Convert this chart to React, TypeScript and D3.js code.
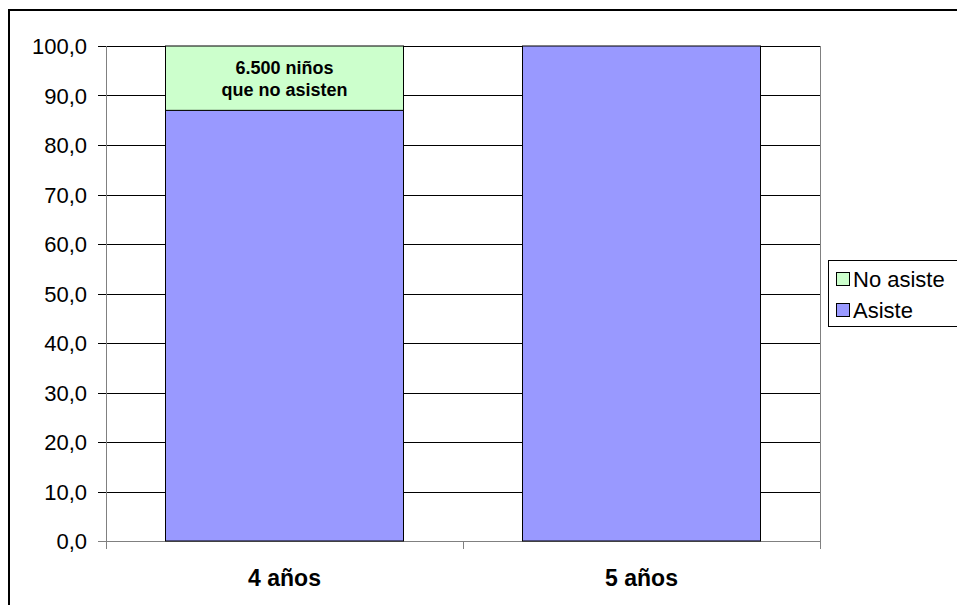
import React from "react";
import * as d3 from "d3";

const categories = ["4 años", "5 años"];
const asiste = [87.0, 100.0];
const noAsiste = [13.0, 0.0];
const yTicks = [0, 10, 20, 30, 40, 50, 60, 70, 80, 90, 100];
const seriesNames = ["No asiste", "Asiste"];
const annotation = ["6.500 niños", "que no asisten"];

const W = 957;
const H = 605;
const plot = { left: 106, right: 820, top: 46, bottom: 541 };
const colAsiste = "#9999FF";
const colNo = "#CCFFCC";

export default function App() {
  const x = d3
    .scaleBand<string>()
    .domain(categories)
    .range([plot.left, plot.right])
    .paddingInner(1 / 3)
    .paddingOuter(1 / 6);
  const y = d3.scaleLinear().domain([0, 100]).range([plot.bottom, plot.top]);
  const fmt = (v: number) => v.toFixed(1).replace(".", ",");
  const font = "Arial, 'Liberation Sans', sans-serif";
  const bw = x.bandwidth();

  return (
    <svg
      width={W}
      height={H}
      style={{ position: "absolute", left: 0, top: 0, background: "#fff" }}
      fontFamily={font}
    >
      <rect x={0} y={0} width={W} height={H} fill="#fff" />
      {/* outer border (top and left visible) */}
      <line x1={9} y1={10} x2={W} y2={10} stroke="#000" strokeWidth={2} />
      <line x1={9} y1={9} x2={9} y2={H} stroke="#000" strokeWidth={2} />

      {/* gridlines */}
      {yTicks.map((t) => (
        <line
          key={"g" + t}
          x1={plot.left - 8}
          x2={plot.right}
          y1={Math.round(y(t)) + 0.5}
          y2={Math.round(y(t)) + 0.5}
          stroke={t === 0 ? "#808080" : "#000"}
          strokeWidth={1}
        />
      ))}
      {/* plot right border */}
      <line
        x1={plot.right + 0.5}
        x2={plot.right + 0.5}
        y1={plot.top}
        y2={plot.bottom}
        stroke="#808080"
      />
      {/* y axis */}
      <line
        x1={plot.left + 0.5}
        x2={plot.left + 0.5}
        y1={plot.top}
        y2={plot.bottom + 8}
        stroke="#808080"
      />
      {/* category ticks */}
      {[plot.left, (plot.left + plot.right) / 2, plot.right].map((px, i) => (
        <line
          key={"ct" + i}
          x1={Math.round(px) + 0.5}
          x2={Math.round(px) + 0.5}
          y1={plot.bottom}
          y2={plot.bottom + 8}
          stroke="#808080"
        />
      ))}
      {yTicks.map((t) => (
        <text
          key={"l" + t}
          x={87}
          y={y(t) + 8}
          textAnchor="end"
          fontSize={22}
          fill="#000"
        >
          {fmt(t)}
        </text>
      ))}

      {/* bars */}
      {categories.map((c, i) => {
        const x0 = x(c)!;
        return (
          <g key={c}>
            <rect
              x={x0}
              y={y(asiste[i])}
              width={bw}
              height={y(0) - y(asiste[i])}
              fill={colAsiste}
              stroke="#000"
              strokeWidth={1}
            />
            {noAsiste[i] > 0 && (
              <rect
                x={x0}
                y={y(asiste[i] + noAsiste[i])}
                width={bw}
                height={y(asiste[i]) - y(asiste[i] + noAsiste[i])}
                fill={colNo}
                stroke="#000"
                strokeWidth={1}
              />
            )}
            <text
              x={x0 + bw / 2}
              y={586}
              textAnchor="middle"
              fontSize={23}
              fontWeight="bold"
            >
              {c}
            </text>
          </g>
        );
      })}

      {/* annotation */}
      {annotation.map((s, i) => (
        <text
          key={"a" + i}
          x={x(categories[0])! + bw / 2}
          y={74 + i * 22}
          textAnchor="middle"
          fontSize={18}
          fontWeight="bold"
        >
          {s}
        </text>
      ))}

      {/* legend */}
      <rect x={828.5} y={260.5} width={140} height={66} fill="#fff" stroke="#000" />
      {seriesNames.map((s, i) => (
        <g key={s}>
          <rect
            x={836.5}
            y={272.5 + i * 31}
            width={13}
            height={13}
            fill={i === 0 ? colNo : colAsiste}
            stroke="#000"
          />
          <text x={853} y={287 + i * 31} fontSize={22}>
            {s}
          </text>
        </g>
      ))}
    </svg>
  );
}
